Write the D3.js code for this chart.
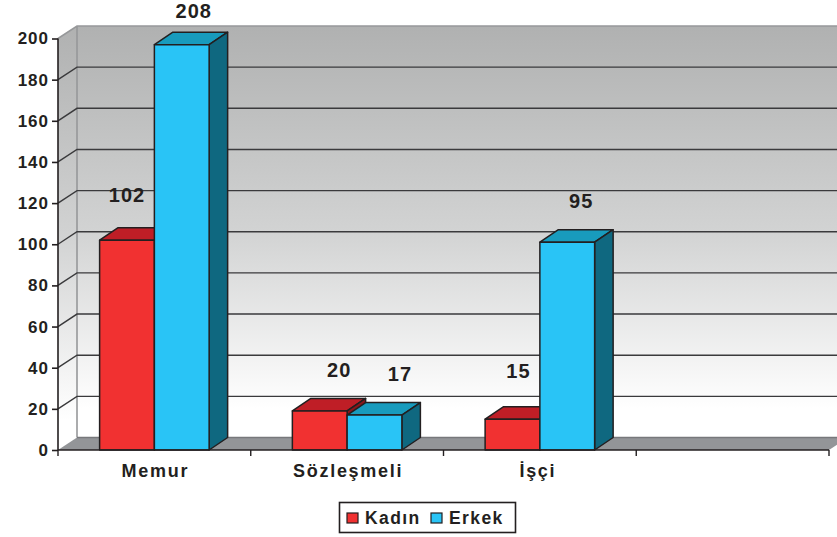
<!DOCTYPE html>
<html><head><meta charset="utf-8">
<script src="https://cdn.jsdelivr.net/npm/d3@7"></script>
<style>html,body{margin:0;padding:0;background:#fff}svg{display:block}text{font-family:"Liberation Sans",Arial,sans-serif;font-weight:bold;fill:#231f20}</style>
</head><body><svg id="c" width="837" height="537"></svg>
<script>
const categories = ["Memur", "Sözleşmeli", "İşçi", ""];
const seriesNames = ["Kadın", "Erkek"];
// Bar heights as drawn in the picture (they differ from the printed labels)
const kadinHeights = [102, 19, 15, null];
const erkekHeights = [197, 17, 101, null];
// Printed data labels
const kadinLabels = ["102", "20", "15", null];
const erkekLabels = ["208", "17", "95", null];
const yTicks = [0,20,40,60,80,100,120,140,160,180,200];
const colors = {
  Kadın: {front:"#f13131", top:"#bf1e26", side:"#8c161b"},
  Erkek: {front:"#29c4f6", top:"#189bbd", side:"#0f6880"}
};
// label nudges relative to the bar's top centre
const labelDx = {Kadın:[0,19.5,6], Erkek:[12,25.5,14]};
const labelDy = {Kadın:[-45,-41,-48], Erkek:[-34,-41,-41]};

const svg = d3.select("#c");
const ink = "#231f20";
const dx = 19, dy = -12.5;
const y = d3.scaleLinear().domain([0,200]).range([450,38.5]);
const x0 = d3.scaleBand().domain(categories).range([58,829]);
const x1 = d3.scaleBand().domain(seriesNames).range([0,x0.bandwidth()]).paddingInner(0).paddingOuter(0.76);

const defs = svg.append("defs");
const g1 = defs.append("linearGradient").attr("id","wall").attr("x1",0).attr("x2",0).attr("y1",0).attr("y2",1);
g1.append("stop").attr("offset",0).attr("stop-color","#b0b1b1");
g1.append("stop").attr("offset",0.5).attr("stop-color","#d2d3d3");
g1.append("stop").attr("offset",0.93).attr("stop-color","#ffffff");
g1.append("stop").attr("offset",1).attr("stop-color","#ffffff");

const x00 = x0.range()[0], xEnd = x0.range()[1];
svg.append("rect").attr("x",x00+dx).attr("y",y(200)+dy).attr("width",xEnd-x00).attr("height",y(0)-y(200)).attr("fill","url(#wall)");
svg.append("path").attr("d",`M${x00},${y(200)}L${x00+dx},${y(200)+dy}L${x00+dx},${y(0)+dy}L${x00},${y(0)}Z`).attr("fill","url(#wall)");
svg.append("path").attr("d",`M${x00},${y(200)}L${x00+dx},${y(200)+dy}L${xEnd+dx},${y(200)+dy}M${x00+dx},${y(200)+dy}V${y(0)+dy}`)
  .attr("fill","none").attr("stroke","#97989a").attr("stroke-width",1.6);
svg.append("path").attr("d",`M${x00},${y(0)}L${x00+dx},${y(0)+dy}L${xEnd+dx},${y(0)+dy}L${xEnd},${y(0)}Z`).attr("fill","#939598");
svg.append("line").attr("x1",x00+dx).attr("x2",xEnd+dx).attr("y1",y(0)+dy).attr("y2",y(0)+dy).attr("stroke","#77787b").attr("stroke-width",1.5);
yTicks.filter(t=>t>0&&t<200).forEach(t=>{
  svg.append("path").attr("d",`M${x00},${y(t)}L${x00+dx},${y(t)+dy}H${xEnd+dx}`).attr("fill","none").attr("stroke","#3a3a3c").attr("stroke-width",1.4);
});
const axisY = d3.axisLeft(y).tickValues(yTicks).tickSize(6).tickPadding(3);
const gy = svg.append("g").attr("transform",`translate(${x00},0)`).call(axisY);
gy.selectAll("path,line").attr("stroke",ink).attr("stroke-width",1.6);
gy.select(".domain").attr("d",`M0,${y(0)}V${y(200)}`);
gy.selectAll("text").style("font-size","17px").style("letter-spacing","1px").attr("fill",ink).style("font-family",'"Liberation Sans",Arial,sans-serif').style("font-weight","bold");

const heights = {Kadın:kadinHeights, Erkek:erkekHeights};
const labels = {Kadın:kadinLabels, Erkek:erkekLabels};
seriesNames.forEach(s=>{
  categories.forEach((c,i)=>{
    const v = heights[s][i];
    if(v==null) return;
    const xl = x0(c)+x1(s), w = x1.bandwidth(), yt = y(v), yb = y(0);
    const ddx = 18.5, ddy = -12.5;
    const g = svg.append("g").attr("stroke",ink).attr("stroke-width",1.5).attr("stroke-linejoin","round");
    g.append("path").attr("d",`M${xl},${yt}L${xl+ddx},${yt+ddy}H${xl+w+ddx}L${xl+w},${yt}Z`).attr("fill",colors[s].top);
    g.append("path").attr("d",`M${xl+w},${yt}L${xl+w+ddx},${yt+ddy}V${yb+ddy}L${xl+w},${yb}Z`).attr("fill",colors[s].side);
    g.append("rect").attr("x",xl).attr("y",yt).attr("width",w).attr("height",yb-yt).attr("fill",colors[s].front);
  });
});
const tickXs = categories.map(c=>x0(c)).concat([xEnd]);
svg.append("line").attr("x1",x00).attr("x2",xEnd).attr("y1",y(0)).attr("y2",y(0)).attr("stroke",ink).attr("stroke-width",1.6);
svg.selectAll(".xt").data(tickXs).join("line").attr("x1",d=>d).attr("x2",d=>d).attr("y1",y(0)).attr("y2",y(0)+6).attr("stroke",ink).attr("stroke-width",1.4);
svg.selectAll(".xl").data(categories).join("text").attr("x",c=>x0(c)+x0.bandwidth()/2+(c==="İşçi"?-2:1)).attr("y",476.5)
  .attr("text-anchor","middle").style("font-size","18px").style("letter-spacing","1.7px").text(d=>d);
seriesNames.forEach(s=>{
  categories.forEach((c,i)=>{
    if(labels[s][i]==null) return;
    svg.append("text").attr("x",x0(c)+x1(s)+x1.bandwidth()/2+labelDx[s][i]).attr("y",y(heights[s][i])+labelDy[s][i]+7)
      .attr("text-anchor","middle").style("font-size","20px").style("letter-spacing","1.1px").text(labels[s][i]);
  });
});
const lg = svg.append("g");
lg.append("rect").attr("x",339.5).attr("y",502.5).attr("width",176).attr("height",30).attr("fill","#fff").attr("stroke",ink).attr("stroke-width",1.6);
[[347,365],[431,449]].forEach((p,i)=>{
  lg.append("rect").attr("x",p[0]).attr("y",513).attr("width",11).attr("height",10).attr("fill",colors[seriesNames[i]].front).attr("stroke",ink).attr("stroke-width",1.2);
  lg.append("text").attr("x",p[1]).attr("y",524).style("font-size","17.5px").style("letter-spacing","1.4px").text(seriesNames[i]);
});
</script></body></html>
